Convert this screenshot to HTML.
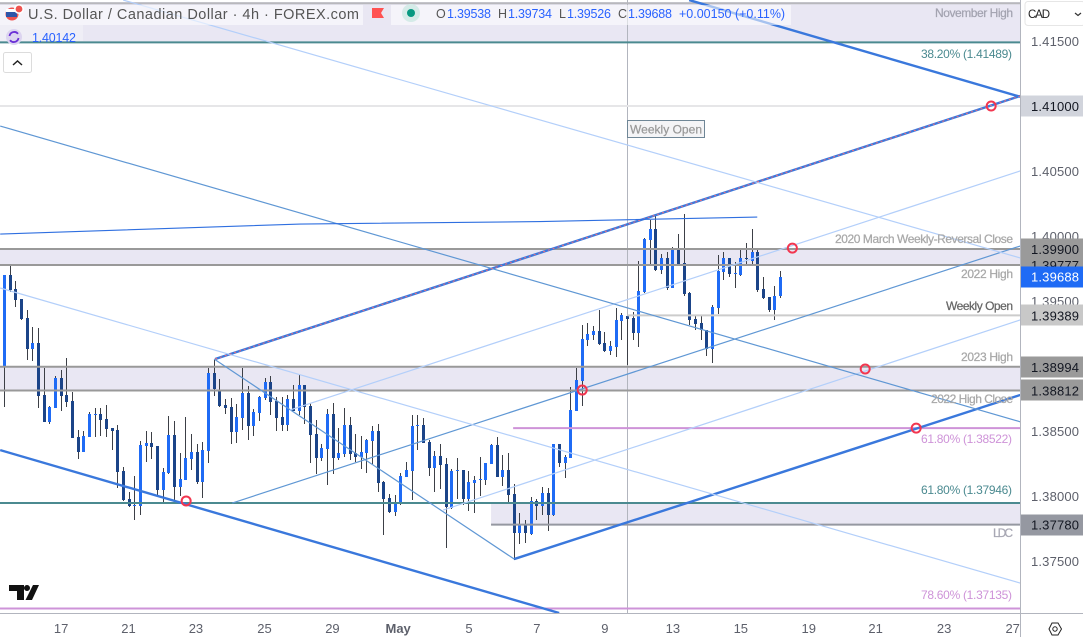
<!DOCTYPE html>
<html lang="en">
<head>
<meta charset="utf-8">
<title>U.S. Dollar / Canadian Dollar 4h Chart</title>
<style>
html,body{margin:0;padding:0;background:#fff;width:1083px;height:637px;overflow:hidden}
svg{display:block;font-family:"Liberation Sans","DejaVu Sans",sans-serif}
.lab{font-size:12px;text-anchor:end}
.heavy{stroke-width:.25px;paint-order:stroke}
.ax{font-size:13px;fill:#5d606b}
.hd{font-family:"Liberation Sans",sans-serif;font-size:12.5px}
</style>
</head>
<body>
<svg id="chart" width="1083" height="637" viewBox="0 0 1083 637" xmlns="http://www.w3.org/2000/svg">
  <rect x="0" y="0" width="1083" height="637" fill="#ffffff"/>
  <defs><clipPath id="pane"><rect x="0" y="0" width="1020" height="613"/></clipPath></defs>
  <g id="bands" clip-path="url(#pane)"></g>
  <g id="vlines" clip-path="url(#pane)"></g>
  <g id="candles" clip-path="url(#pane)"></g>
  <g id="levels" clip-path="url(#pane)"></g>
  <g id="trends" clip-path="url(#pane)" fill="none"></g>
  <g id="circles" clip-path="url(#pane)"></g>

  <g>
    <text class="lab heavy" x="1013" y="17" fill="#a3a3b0" stroke="#a3a3b0" textLength="78">November High</text>
    <text class="lab" x="1012" y="58" fill="#4b8a90" textLength="91">38.20% (1.41489)</text>
    <text class="lab heavy" x="1013" y="243" fill="#a8a8a8" stroke="#a8a8a8" textLength="178">2020 March Weekly-Reversal Close</text>
    <text class="lab heavy" x="1013" y="278" fill="#a8a8a8" stroke="#a8a8a8" textLength="52">2022 High</text>
    <text class="lab heavy" x="1013" y="310" fill="#666666" stroke="#666666" textLength="67">Weekly Open</text>
    <text class="lab heavy" x="1013" y="361" fill="#a8a8a8" stroke="#a8a8a8" textLength="52">2023 High</text>
    <text class="lab heavy" x="1013" y="403" fill="#a8a8a8" stroke="#a8a8a8" textLength="82">2022 High Close</text>
    <text class="lab" x="1012" y="443" fill="#ce93d8" textLength="91">61.80% (1.38522)</text>
    <text class="lab" x="1012" y="494" fill="#4b8a90" textLength="91">61.80% (1.37946)</text>
    <text class="lab heavy" x="1013" y="537" fill="#a8a8b4" stroke="#a8a8b4" textLength="20">LDC</text>
    <text class="lab" x="1012" y="599" fill="#ce93d8" textLength="91">78.60% (1.37135)</text>
  </g>
  <g>
    <rect x="627.5" y="120.5" width="77" height="17" fill="#f4f4f6" stroke="#6f8696" stroke-width="1"/>
    <text class="heavy" x="666" y="133.500" font-size="12" fill="#999999" stroke="#999999" text-anchor="middle" textLength="72">Weekly Open</text>
  </g>

  <g>
    <rect x="0" y="5" width="363" height="20" fill="#ffffff" fill-opacity="0.55"/>
    <rect x="391" y="5" width="400" height="20" fill="#ffffff" fill-opacity="0.55"/>
    <rect x="0" y="25" width="83" height="16" fill="#ffffff" fill-opacity="0.3"/>
    <g>
      <circle cx="12" cy="14" r="6.5" fill="#ef5350"/>
      <rect x="6" y="9" width="12" height="3" fill="#ffffff"/>
      <rect x="6" y="12" width="11" height="5" fill="#2f55a8"/>
      <circle cx="19" cy="9" r="5" fill="#ffffff"/>
      <circle cx="19" cy="9" r="3.4" fill="#ef5350"/>
    </g>
    <text class="hd" x="28" y="19" style="font-size:14.5px" fill="#555555" textLength="331">U.S. Dollar / Canadian Dollar · 4h · FOREX.com</text>
    <path d="M372 8h12l-3 5 3 5h-12z" fill="#ff5252"/>
    <circle cx="411" cy="13" r="9" fill="#d5ebe8"/>
    <circle cx="411" cy="13" r="4" fill="#089981"/>
    <text class="hd" x="436" y="18" fill="#555555">O</text>
    <text class="hd" x="447" y="18" fill="#2962ff" textLength="44">1.39538</text>
    <text class="hd" x="498" y="18" fill="#555555">H</text>
    <text class="hd" x="508" y="18" fill="#2962ff" textLength="44">1.39734</text>
    <text class="hd" x="559" y="18" fill="#555555">L</text>
    <text class="hd" x="567" y="18" fill="#2962ff" textLength="44">1.39526</text>
    <text class="hd" x="618" y="18" fill="#555555">C</text>
    <text class="hd" x="628" y="18" fill="#2962ff" textLength="44">1.39688</text>
    <text class="hd" x="679" y="18" fill="#2962ff">+0.00150 (+0.11%)</text>
    <g>
      <circle cx="14" cy="37" r="8" fill="#dcd4f0"/>
      <path d="M9.5 36a4.8 4.8 0 0 1 8.5-2.2M18.5 38a4.8 4.8 0 0 1-8.5 2.2" fill="none" stroke="#6a2fd6" stroke-width="1.8"/>
    </g>
    <text class="hd" x="32" y="42" fill="#2962ff" textLength="44">1.40142</text>
    <rect x="3.5" y="52.5" width="28" height="20" rx="2" fill="#ffffff" stroke="#dcdcdc"/>
    <path d="M13 65l4.500-4 4.500 4" fill="none" stroke="#222222" stroke-width="1.500"/>
  </g>

  <path d="M9 585h15v15h-7v-9H9zM27 585a3 3 0 1 1-.01 0zM33 585h6l-7 15h-6.500z" fill="#111111"/>

  <g id="price-axis"></g>
  <g id="time-axis"></g>

  <g>
    <rect x="1025" y="1.500" width="60" height="24" rx="3" fill="#ffffff" stroke="#e6e6e6"/>
    <text x="1028" y="18" font-size="11.5" fill="#222222" font-family="Liberation Sans, sans-serif" textLength="22">CAD</text>
    <path d="M1075 13l3 2.500 3-2.500" fill="none" stroke="#333333" stroke-width="1.200"/>
  </g>
  <g>
    <path d="M1049 629l3-6h6l3.500 6-3.500 6h-6z" fill="none" stroke="#222222" stroke-width="1"/>
    <circle cx="1055" cy="629" r="2.200" fill="none" stroke="#222222" stroke-width="1"/>
  </g>
</svg>

<script>
const open = [1.39000,1.39700,1.39592,1.39515,1.39369,1.39131,1.39177,1.38777,1.38569,1.38677,1.38908,1.38777,1.38731,1.38454,1.38338,1.38454,1.38623,1.38631,1.38592,1.38523,1.38508,1.38192,1.37977,1.37931,1.37923,1.38385,1.38408,1.38385,1.38046,1.38177,1.38469,1.38069,1.38123,1.38285,1.38338,1.38108,1.38346,1.38946,1.38808,1.38700,1.38684,1.38492,1.38600,1.38792,1.38538,1.38638,1.38754,1.38877,1.38731,1.38608,1.38546,1.38746,1.38654,1.38854,1.38692,1.38477,1.38292,1.38362,1.38631,1.38292,1.38323,1.38546,1.38331,1.38300,1.38331,1.38423,1.38500,1.38108,1.37985,1.37877,1.37938,1.38146,1.38192,1.38538,1.38546,1.38415,1.38215,1.38308,1.38246,1.37908,1.38192,1.38200,1.37977,1.38100,1.38123,1.38123,1.38246,1.38392,1.38146,1.38200,1.38015,1.37715,1.37777,1.37708,1.37962,1.37923,1.38023,1.37854,1.38400,1.38254,1.38292,1.38654,1.38885,1.39200,1.39238,1.39269,1.39177,1.39115,1.39146,1.39346,1.39384,1.39369,1.39254,1.39569,1.39969,1.40054,1.39738,1.39831,1.39600,1.39892,1.39792,1.39562,1.39361,1.39331,1.39277,1.39131,1.39446,1.39723,1.39831,1.39715,1.39700,1.39831,1.39808,1.39877,1.39592,1.39531,1.39430,1.39538];
const high = [1.39700,1.39777,1.39653,1.39515,1.39430,1.39300,1.39292,1.38984,1.38692,1.38923,1.38969,1.39062,1.38800,1.38508,1.38500,1.38646,1.38677,1.38677,1.38700,1.38523,1.38546,1.38223,1.38031,1.38154,1.38423,1.38500,1.38492,1.38385,1.38215,1.38615,1.38577,1.38331,1.38608,1.38477,1.38400,1.38415,1.38984,1.39046,1.38900,1.38746,1.38754,1.38708,1.38984,1.38846,1.38669,1.38769,1.38908,1.38923,1.38762,1.38762,1.38777,1.38854,1.38931,1.38854,1.38715,1.38585,1.38400,1.38669,1.38715,1.38523,1.38677,1.38608,1.38477,1.38461,1.38438,1.38538,1.38554,1.38115,1.38015,1.38008,1.38177,1.38262,1.38623,1.38623,1.38600,1.38431,1.38346,1.38400,1.38292,1.38208,1.38292,1.38200,1.38192,1.38154,1.38300,1.38254,1.38400,1.38454,1.38315,1.38331,1.38092,1.37869,1.37815,1.37992,1.37977,1.38069,1.38062,1.38400,1.38400,1.38315,1.38838,1.38984,1.39315,1.39331,1.39308,1.39430,1.39262,1.39192,1.39446,1.39408,1.39384,1.39415,1.39808,1.39985,1.40123,1.40154,1.39862,1.39877,1.39915,1.40015,1.40169,1.39569,1.39384,1.39384,1.39277,1.39469,1.39854,1.39877,1.39831,1.39800,1.39892,1.39946,1.40054,1.39892,1.39685,1.39531,1.39615,1.39734];
const low = [1.38684,1.39569,1.39454,1.39354,1.39046,1.39038,1.38677,1.38569,1.38554,1.38677,1.38654,1.38684,1.38446,1.38285,1.38338,1.38454,1.38454,1.38461,1.38454,1.38354,1.38062,1.37962,1.37915,1.37815,1.37854,1.38262,1.38285,1.38008,1.37954,1.38169,1.37954,1.38000,1.38123,1.38200,1.38092,1.37985,1.38254,1.38769,1.38684,1.38631,1.38400,1.38408,1.38508,1.38431,1.38461,1.38577,1.38738,1.38623,1.38500,1.38500,1.38500,1.38654,1.38623,1.38554,1.38254,1.38169,1.38269,1.38085,1.38169,1.38277,1.38300,1.38277,1.38262,1.38208,1.38177,1.38246,1.38031,1.37700,1.37869,1.37846,1.37931,1.38146,1.37969,1.38354,1.38408,1.38154,1.38031,1.38054,1.37600,1.37900,1.37977,1.37931,1.37885,1.37869,1.38000,1.38085,1.38246,1.38146,1.38077,1.37946,1.37508,1.37631,1.37638,1.37700,1.37815,1.37854,1.37731,1.37846,1.38223,1.38138,1.38292,1.38654,1.38692,1.39154,1.39200,1.39162,1.39108,1.39085,1.39069,1.39200,1.39008,1.39200,1.39146,1.39562,1.39785,1.39731,1.39708,1.39584,1.39600,1.39777,1.39538,1.39315,1.39277,1.39200,1.39077,1.39023,1.39400,1.39662,1.39685,1.39600,1.39692,1.39777,1.39769,1.39569,1.39515,1.39415,1.39354,1.39526];
const close = [1.39700,1.39584,1.39507,1.39361,1.39131,1.39177,1.38769,1.38569,1.38684,1.38908,1.38769,1.38723,1.38446,1.38338,1.38461,1.38631,1.38631,1.38585,1.38515,1.38500,1.38185,1.37969,1.37923,1.37931,1.38392,1.38408,1.38377,1.38046,1.38185,1.38469,1.38069,1.38131,1.38292,1.38338,1.38108,1.38354,1.38946,1.38823,1.38692,1.38677,1.38492,1.38608,1.38792,1.38538,1.38646,1.38762,1.38877,1.38723,1.38600,1.38546,1.38746,1.38654,1.38854,1.38684,1.38469,1.38292,1.38369,1.38631,1.38292,1.38331,1.38546,1.38323,1.38300,1.38338,1.38431,1.38500,1.38100,1.37977,1.37877,1.37946,1.38154,1.38200,1.38538,1.38546,1.38408,1.38215,1.38308,1.38238,1.37915,1.38192,1.38200,1.37977,1.38108,1.38123,1.38131,1.38254,1.38392,1.38146,1.38200,1.38008,1.37715,1.37777,1.37715,1.37962,1.37923,1.38023,1.37854,1.38400,1.38254,1.38300,1.38662,1.38892,1.39208,1.39246,1.39269,1.39169,1.39115,1.39154,1.39354,1.39392,1.39361,1.39254,1.39577,1.39977,1.40054,1.39738,1.39831,1.39600,1.39900,1.39785,1.39554,1.39354,1.39323,1.39277,1.39131,1.39454,1.39731,1.39831,1.39708,1.39715,1.39831,1.39823,1.39877,1.39584,1.39523,1.39430,1.39538,1.39688];

const priceTicks = ["1.41500","1.40500","1.40000","1.39500","1.38500","1.38000","1.37500"];
const priceBadges = ["1.41000","1.37780","1.38812","1.38994","1.39389","1.39777","1.39900","1.39688"];
const badgeFills = ["#d1d4dc","#9598a1","#9a9a9a","#9a9a9a","#c8c8c8","#9a9a9a","#9a9a9a","#1f6bf5"];
const badgeText = ["#131722","#131722","#131722","#131722","#131722","#131722","#131722","#ffffff"];
const timeLabels = ["17","21","23","25","29","May","5","7","9","13","15","19","21","23","27"];
const timeBars = [10,21.9,33.8,45.9,57.9,69.5,82,94,106,118,130,142,153.8,165.9,178];

const zoneTops = [1.41800,1.39900,1.38994];
const zoneBottoms = [1.41489,1.39777,1.38812];
const lowerZoneTop = 1.37946;
const lowerZoneBottom = 1.37780;
const lowerZoneStartBar = 85.9;

const levelPrices = [1.41790,1.41489,1.41000,1.39900,1.39777,1.39389,1.38994,1.38812,1.38522,1.37946,1.37780,1.37135];
const levelStartBars = [-1,-1,-1,-1,-1,110,-1,-1,89.8,-1,85.9,-1];
const levelColors = ["#b8b8bc","#4b8a90","#e6e6e8","#999999","#999999","#cccccc","#999999","#999999","#ce93d8","#4b8a90","#9598a1","#ce93d8"];
const levelNames = ["november-high-line","fib-38-line","level-1-41-line","close-2020-line","high-2022-line","weekly-open-line","high-2023-line","high-close-2022-line","fib-61-upper-line","fib-61-lower-line","ldc-line","fib-78-line"];

const weeklyOpenBar = 110;

const trendStartBars = [-0.76,120.88,37.2,89.98,37.0,40.2,50.44,77.45,-0.76,20.95,-0.76];
const trendStartPrices = [1.38353,1.41815,1.39054,1.37515,1.39054,1.37946,1.38662,1.37892,1.40846,1.41815,1.39600];
const trendEndBars = [97.93,179.32,179.32,179.32,89.98,179.32,179.32,179.32,179.32,179.32,179.32];
const trendEndPrices = [1.37100,1.41071,1.41077,1.38777,1.37515,1.39923,1.40500,1.39354,1.38571,1.39831,1.37330];
const trendColors = ["#3a78dc","#3a78dc","#3a78dc","#3a78dc","#5f97d4","#5f97d4","#b3cffa","#b3cffa","#5f97d4","#b3cffa","#b3cffa"];
const trendWidths = [2.4,2.4,2.4,2.4,1.2,1.2,1.2,1.2,1.2,1.2,1.2];

const maBars = [-0.76,52.2,94.6,132.9];
const maPrices = [1.40015,1.40092,1.40111,1.40146];

const pivotBars = [32.07,102.0,139.1,174.2,151.96,160.96];
const pivotPrices = [1.37962,1.38815,1.39907,1.41000,1.38977,1.38522];

const NS = 'http://www.w3.org/2000/svg';
function xScale(bar){ return 4.5 + 5.664 * bar; }
function yScale(price){ return 106 + (1.41 - price) * 13000; }
function make(tag, parentId, attrs){
  const el = document.createElementNS(NS, tag);
  for (const k in attrs) el.setAttribute(k, attrs[k]);
  document.getElementById(parentId).appendChild(el);
  return el;
}

zoneTops.forEach(function(top, i){
  const y0 = yScale(top), y1 = yScale(zoneBottoms[i]);
  const el = make('rect', 'bands', {x:0, y:y0, width:1020, height:y1 - y0, fill:'#e9e7f3'});
  
  
});
(function(){
  const x0 = xScale(lowerZoneStartBar), y0 = yScale(lowerZoneTop), y1 = yScale(lowerZoneBottom);
  const el = make('rect', 'bands', {x:x0, y:y0, width:1020 - x0, height:y1 - y0, fill:'#e9e7f3'});
  
  
})();

(function(){
  const x = Math.floor(xScale(weeklyOpenBar)) + 0.5;
  const el = make('line', 'vlines', {x1:x, x2:x, y1:0, y2:613, stroke:'#b2b5be', 'stroke-width':1});
  
  
})();

open.forEach(function(o, i){
  const c = close[i], up = c >= o;
  const px = Math.floor(xScale(i));
  const wick = make('rect', 'candles', {x:px, y:Math.round(yScale(high[i])), width:1, height:Math.max(1, Math.round(yScale(low[i])) - Math.round(yScale(high[i]))), fill:'#3c3f46', 'shape-rendering':'crispEdges'});
  
  
  const t = Math.round(yScale(Math.max(o, c))), b = Math.round(yScale(Math.min(o, c)));
  const body = make('rect', 'candles', {x:px - 1, y:t, width:3, height:Math.max(1, b - t), fill:up ? '#1f6bf5' : '#1b4488', 'shape-rendering':'crispEdges'});
  
  
});

levelPrices.forEach(function(p, i){
  const y = yScale(p);
  const el = make('line', 'levels', {x1:Math.max(0, xScale(levelStartBars[i])), x2:1020, y1:y, y2:y, stroke:levelColors[i], 'stroke-width':2});
  
  
});

trendStartBars.forEach(function(b, i){
  const el = make('line', 'trends', {x1:xScale(b), y1:yScale(trendStartPrices[i]), x2:xScale(trendEndBars[i]), y2:yScale(trendEndPrices[i]), stroke:trendColors[i], 'stroke-width':trendWidths[i]});
  
  
});
(function(){
  const el = make('line', 'trends', {x1:xScale(trendStartBars[2]), y1:yScale(trendStartPrices[2]), x2:xScale(trendEndBars[2]), y2:yScale(trendEndPrices[2]), stroke:'#ef6a7c', 'stroke-width':1, 'stroke-dasharray':'2 3'});
  
  
  const pts = maBars.map(function(b, i){ return xScale(b) + ',' + yScale(maPrices[i]); }).join(' ');
  const ma = make('polyline', 'trends', {points:pts, stroke:'#2f6fe0', 'stroke-width':1.1});
  
  
})();

pivotBars.forEach(function(b, i){
  const el = make('circle', 'circles', {cx:xScale(b), cy:yScale(pivotPrices[i]), r:4.5, fill:'none', stroke:'#f2364f', 'stroke-width':2});
  
  
});

(function(){
  const bg = make('rect', 'price-axis', {x:1020, y:0, width:63, height:637, fill:'#ffffff'});
  
  
  const border = make('line', 'price-axis', {x1:1020.5, x2:1020.5, y1:0, y2:637, stroke:'#b2b5be', 'stroke-width':1});
  
  
})();
priceTicks.forEach(function(t){
  const el = make('text', 'price-axis', {x:1031, y:yScale(parseFloat(t)) + 5, class:'ax', textLength:48});
  el.textContent = t;
  
  
});
priceBadges.forEach(function(t, i){
  const cy = yScale(parseFloat(t));
  const r = make('rect', 'price-axis', {x:1021, y:Math.round(cy) - 10.5, width:62, height:21, fill:badgeFills[i]});
  
  
  const el = make('text', 'price-axis', {x:1031, y:cy + 5, class:'ax', textLength:48, style:'fill:' + badgeText[i]});
  el.textContent = t;
  
  
});

(function(){
  const bg = make('rect', 'time-axis', {x:0, y:613, width:1020, height:24, fill:'#ffffff'});
  
  
  const border = make('line', 'time-axis', {x1:0, x2:1083, y1:613.5, y2:613.5, stroke:'#b2b5be', 'stroke-width':1});
  
  
})();
timeLabels.forEach(function(t, i){
  const el = make('text', 'time-axis', {x:xScale(timeBars[i]), y:633, class:'ax', 'text-anchor':'middle', 'font-weight':t === 'May' ? 'bold' : 'normal'});
  el.textContent = t;
  
  
});
</script>
</body>
</html>
